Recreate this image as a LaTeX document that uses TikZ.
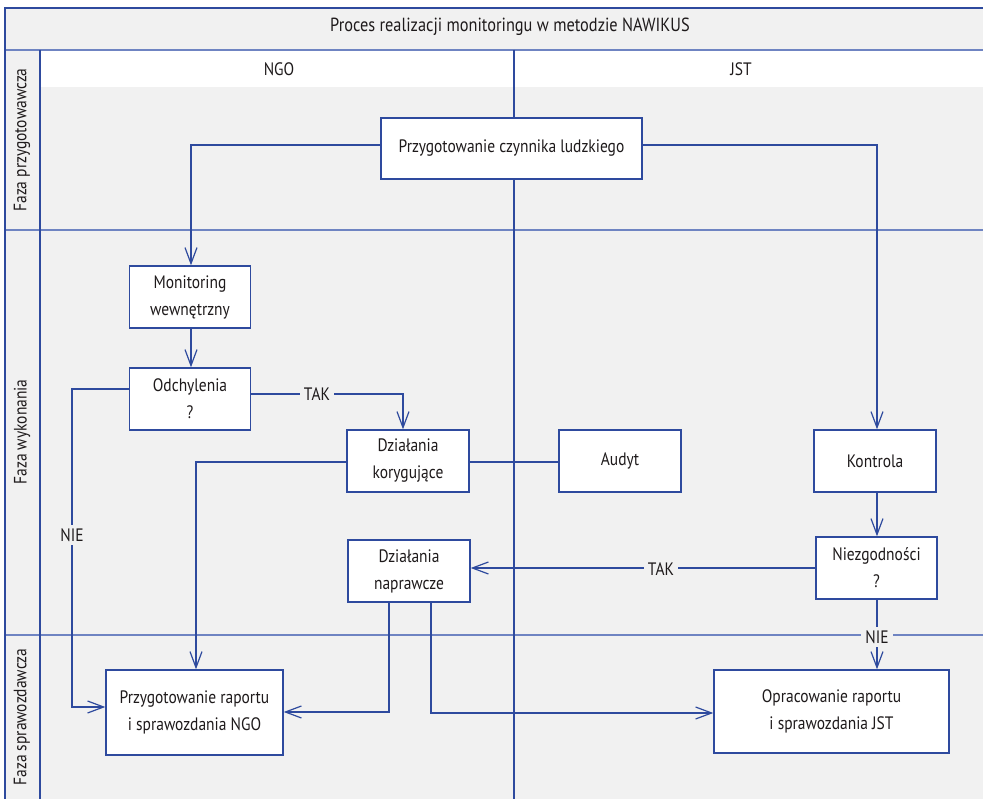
\documentclass[tikz,border=0pt]{standalone}
\usepackage{fontspec}
\setmainfont[FakeStretch=0.86]{PT Sans}
\usetikzlibrary{arrows.meta,calc}
\definecolor{bgg}{HTML}{F1F1F1}
\definecolor{lnb}{HTML}{2E4A9E}
\definecolor{lanec}{HTML}{6F84C2}
\definecolor{txt}{HTML}{1E1A1B}
\tikzset{
  box/.style={draw=lnb, line width=1.4pt, fill=white, inner sep=0pt, align=center, text=txt,
    font=\fontsize{18}{27}\selectfont},
  conn/.style={draw=lnb, line width=1.2pt, -{Straight Barb[length=16pt,width=12pt,line width=1.2pt]}},
  plain/.style={draw=lnb, line width=1.2pt},
  lbl/.style={fill=bgg, inner sep=4pt, text=txt, font=\fontsize{18}{20}\selectfont},
  lane/.style={draw=lanec, line width=1.5pt},
  hdr/.style={text=txt, font=\fontsize{18}{20}\selectfont}
}
\begin{document}
\begin{tikzpicture}[x=1pt,y=-1pt]
\useasboundingbox (0,0) rectangle (983,799);
% backgrounds
\fill[white] (0,0) rectangle (983,799);
\fill[bgg] (5,8) rectangle (983,799);
\fill[white] (40,50) rectangle (983,87);
% lane lines
\draw[lane] (5,50) -- (983,50);
\draw[lane] (5,230) -- (983,230);
\draw[lane] (5,635) -- (983,635);
\draw[draw=lnb, line width=1.2pt] (40,50) -- (40,799);
\draw[draw=lnb, line width=1.2pt] (514,50) -- (514,799);
\draw[draw=lnb, line width=1.6pt] (5,799) -- (5,8) -- (983,8);
% headers
\node[hdr] (title) at (510,27) {\fontsize{19}{20}\selectfont Proces realizacji monitoringu w metodzie NAWIKUS};
\node[hdr] (ngoh) at (279,69) {NGO};
\node[hdr] (jsth) at (741,69) {JST};
\node[hdr, rotate=90] (f1) at (22,140) {Faza przygotowawcza};
\node[hdr, rotate=90] (f2) at (22,432) {Faza wykonania};
\node[hdr, rotate=90] (f3) at (22,717) {Faza sprawozdawcza};
% boxes
\node[box, minimum width=261pt, minimum height=61pt] (czl) at (511.5,148.5) {Przygotowanie czynnika ludzkiego};
\node[box, minimum width=121pt, minimum height=62pt] (mon) at (190,297) {Monitoring\\wewnętrzny};
\node[box, minimum width=121pt, minimum height=62pt] (odch) at (190,399) {Odchylenia\\?};
\node[box, minimum width=122pt, minimum height=62pt] (kor) at (408,461) {Działania\\korygujące};
\node[box, minimum width=122pt, minimum height=62pt] (aud) at (620,461) {Audyt};
\node[box, minimum width=122pt, minimum height=62pt] (kon) at (875,461) {Kontrola};
\node[box, minimum width=121pt, minimum height=62pt] (niez) at (876.5,568) {Niezgodności\\?};
\node[box, minimum width=122pt, minimum height=62pt] (nap) at (409,571) {Działania\\naprawcze};
\node[box, minimum width=177pt, minimum height=85pt] (ngo) at (194.5,712.5) {Przygotowanie raportu\\i sprawozdania NGO};
\node[box, minimum width=235pt, minimum height=83pt] (opr) at (831.5,711.5) {Opracowanie raportu\\i sprawozdania JST};
% coordinates
\coordinate (c1) at (191,145);
\coordinate (c2) at (877,145);
\coordinate (c3) at (403,394);
\coordinate (c4) at (72,389);
\coordinate (c5) at (72,707);
\coordinate (c6) at (196,462);
\coordinate (c7) at (389,712);
\coordinate (c8) at (431,713);
% connectors
\draw[conn] (czl.west |- c1) -- (c1) -- (c1 |- mon.north);
\draw[conn] (czl.east |- c2) -- (c2) -- (c2 |- kon.north);
\draw[conn] (mon.south -| c1) -- (c1 |- odch.north);
\draw[conn] (odch.east |- c3) -- (c3) -- (c3 |- kor.north);
\draw[conn] (odch.west |- c4) -- (c4) -- (c5) -- (ngo.west |- c5);
\draw[conn] (kor.west |- c6) -- (c6) -- (c6 |- ngo.north);
\draw[plain] (kor.east |- c6) -- (aud.west |- c6);
\draw[conn] (kon.south -| c2) -- (c2 |- niez.north);
\draw[conn] (niez.west) -- (nap.east |- niez.west);
\draw[conn] (c2 |- niez.south) -- (c2 |- opr.north);
\draw[conn] (c7 |- nap.south) -- (c7) -- (ngo.east |- c7);
\draw[conn] (c8 |- nap.south) -- (c8) -- (opr.west |- c8);
% labels
\node[lbl] (tak1) at (317,394) {TAK};
\node[lbl] (tak2) at (661,569) {TAK};
\node[lbl] (nie1) at (72,535) {NIE};
\node[lbl] (nie2) at (877,637) {NIE};
\end{tikzpicture}
\end{document}
